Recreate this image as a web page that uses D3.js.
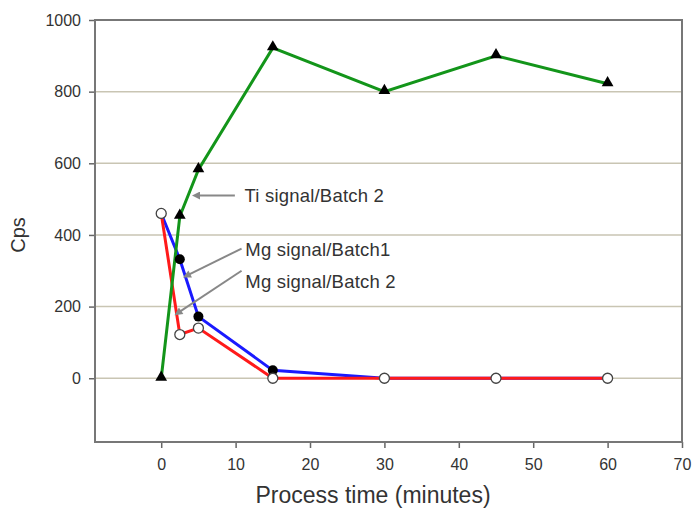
<!DOCTYPE html>
<html>
<head>
<meta charset="utf-8">
<script src="https://cdn.jsdelivr.net/npm/d3@7"></script>
<style>
  body { margin: 0; background: #fff; }
  svg text { font-family: "Liberation Sans", Arial, sans-serif; fill: #333; }
</style>
</head>
<body>
<div id="chart"></div>
<script>
// values
var times = [0, 2.5, 5, 15, 30, 45, 60];
var tiBatch2 = [0, 452, 582, 922, 800, 900, 822];
var mgBatch1 = [460, 332, 172, 22, 0, 0, 0];
var mgBatch2 = [460, 122, 140, 0, 0, 0, 0];
var xTicks = [0, 10, 20, 30, 40, 50, 60, 70];
var yTicks = [0, 200, 400, 600, 800, 1000];

// label text, arrow tip (x, y), arrow start (lx, ly), text anchor (tx, ty)
var notes = [
    { text: "Ti signal/Batch 2", x: 5.0, y: 510, lx: 9.9, ly: 510, tx: 11.2, ty: 510 },
    { text: "Mg signal/Batch1", x: 3.7, y: 289, lx: 10.8, ly: 362, tx: 11.3, ty: 360 },
    { text: "Mg signal/Batch 2", x: 2.5, y: 186, lx: 10.8, ly: 300, tx: 11.3, ty: 270 }
];

var width = 693, height = 508;
var margin = { top: 20, right: 11, bottom: 66, left: 95 };
var w = width - margin.left - margin.right,
    h = height - margin.top - margin.bottom;

var svg = d3.select("#chart").append("svg")
    .attr("width", width)
    .attr("height", height);

var g = svg.append("g")
    .attr("transform", "translate(" + margin.left + "," + margin.top + ")");

var x = d3.scaleLinear().domain([-8.9, 70]).range([0, w]);
var y = d3.scaleLinear().domain([-178, 1000]).range([h, 0]);

// grid lines
g.selectAll(".grid")
    .data(yTicks)
    .enter().append("line")
    .attr("class", "grid")
    .attr("x1", 0).attr("x2", w)
    .attr("y1", function (d) { return y(d); })
    .attr("y2", function (d) { return y(d); })
    .attr("stroke", "#c9c5b3")
    .attr("stroke-width", 1.5);

// y axis
var yAxis = g.append("g")
    .call(d3.axisLeft(y).tickValues(yTicks).tickFormat(d3.format("d")).tickSize(6).tickPadding(8));
yAxis.select(".domain").remove();
yAxis.selectAll("line").attr("stroke", "#666").attr("stroke-width", 1.5);
yAxis.selectAll("text").style("font-size", "16px").attr("fill", "#3a3a3a");

// x axis
var xAxis = g.append("g")
    .attr("transform", "translate(0," + h + ")")
    .call(d3.axisBottom(x).tickValues(xTicks).tickSize(6).tickPadding(11));
xAxis.select(".domain").remove();
xAxis.selectAll("line").attr("stroke", "#666").attr("stroke-width", 1.5);
xAxis.selectAll("text").style("font-size", "16px").attr("fill", "#3a3a3a");

// frame
g.append("rect")
    .attr("width", w).attr("height", h)
    .attr("fill", "none")
    .attr("stroke", "#777")
    .attr("stroke-width", 2);

function pts(vals) {
    return times.map(function (t, i) { return [t, vals[i]]; });
}

var line = d3.line()
    .x(function (d) { return x(d[0]); })
    .y(function (d) { return y(d[1]); });

g.append("path").datum(pts(mgBatch1))
    .attr("fill", "none").attr("stroke", "#1a1aff").attr("stroke-width", 3)
    .attr("d", line);
g.append("path").datum(pts(mgBatch2))
    .attr("fill", "none").attr("stroke", "#ff1a1a").attr("stroke-width", 3)
    .attr("d", line);
g.append("path").datum(pts(tiBatch2))
    .attr("fill", "none").attr("stroke", "#13951a").attr("stroke-width", 3)
    .attr("d", line);

// markers
var tri = d3.symbol().type(d3.symbolTriangle).size(60);
g.selectAll(".tri")
    .data(pts(tiBatch2))
    .enter().append("path")
    .attr("class", "tri")
    .attr("d", tri)
    .attr("transform", function (d) { return "translate(" + x(d[0]) + "," + (y(d[1]) - 1) + ")"; })
    .attr("fill", "#000");

g.selectAll(".dot1")
    .data(pts(mgBatch1))
    .enter().append("circle")
    .attr("class", "dot1")
    .attr("cx", function (d) { return x(d[0]); })
    .attr("cy", function (d) { return y(d[1]); })
    .attr("r", 5)
    .attr("fill", "#000");

g.selectAll(".dot2")
    .data(pts(mgBatch2))
    .enter().append("circle")
    .attr("class", "dot2")
    .attr("cx", function (d) { return x(d[0]); })
    .attr("cy", function (d) { return y(d[1]); })
    .attr("r", 5)
    .attr("fill", "#fff")
    .attr("stroke", "#444")
    .attr("stroke-width", 1.3);

// annotations with arrows
svg.append("defs").append("marker")
    .attr("id", "arr")
    .attr("viewBox", "0 0 10 10")
    .attr("refX", 2).attr("refY", 5)
    .attr("markerWidth", 5).attr("markerHeight", 4)
    .attr("orient", "auto")
    .append("path")
    .attr("d", "M0,0 L10,5 L0,10 z")
    .attr("fill", "#888");

g.selectAll(".note-line")
    .data(notes)
    .enter().append("line")
    .attr("class", "note-line")
    .attr("x1", function (d) { return x(d.lx); })
    .attr("y1", function (d) { return y(d.ly); })
    .attr("x2", function (d) { return x(d.x); })
    .attr("y2", function (d) { return y(d.y); })
    .attr("stroke", "#888")
    .attr("stroke-width", 2)
    .attr("marker-end", "url(#arr)");

g.selectAll(".note")
    .data(notes)
    .enter().append("text")
    .attr("class", "note")
    .attr("x", function (d) { return x(d.tx); })
    .attr("y", function (d) { return y(d.ty); })
    .attr("dy", "0.35em")
    .style("font-size", "18.5px")
    .style("letter-spacing", "0.2px")
    .text(function (d) { return d.text; });

// axis titles
svg.append("text")
    .attr("transform", "translate(25," + (margin.top + y(400)) + ") rotate(-90)")
    .attr("text-anchor", "middle")
    .style("font-size", "20px")
    .text("Cps");

svg.append("text")
    .attr("x", 373)
    .attr("y", 503)
    .attr("text-anchor", "middle")
    .style("font-size", "23px")
    .text("Process time (minutes)");
</script>
</body>
</html>
